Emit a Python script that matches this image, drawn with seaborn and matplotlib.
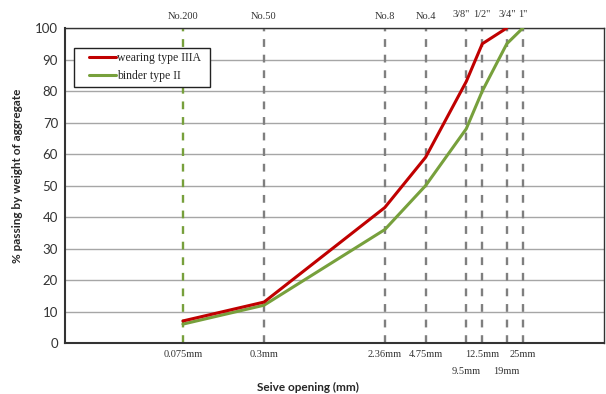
import pandas as pd
import numpy as np
import matplotlib
matplotlib.use("Agg")
import matplotlib.pyplot as plt
import seaborn as sns
from matplotlib.transforms import blended_transform_factory
from matplotlib.lines import Line2D
from matplotlib.legend_handler import HandlerLine2D

# sieve sizes (mm) and their names
sieve_mm = [0.075, 0.3, 2.36, 4.75, 9.5, 12.5, 19, 25]
sieve_names = ["No.200", "No.50", "No.8", "No.4", '3/8"', '1/2"', '3/4"', '1"']
# first row of size labels / second (lower) row
row1_mm = [0.075, 0.3, 2.36, 4.75, 12.5, 25]
row1_labels = ["0.075mm", "0.3mm", "2.36mm", "4.75mm", "12.5mm", "25mm"]
row2_mm = [9.5, 19]
row2_labels = ["9.5mm", "19mm"]

# % passing
wearing_x = [0.075, 0.3, 2.36, 4.75, 9.5, 12.5, 19]
wearing_y = [7, 13, 43, 59, 83, 95, 100]
binder_x = [0.075, 0.3, 2.36, 4.75, 9.5, 12.5, 19, 25]
binder_y = [6, 12, 36, 50, 68, 80, 95, 100]

red = "#C00000"
green = "#77A03C"

sns.set_style("white")
serif = ["Liberation Serif", "DejaVu Serif"]
sans = ["Lato", "DejaVu Sans"]

fig = plt.figure(figsize=(6.06, 3.94), dpi=100)
ax = fig.add_axes([0.1073, 0.1294, 0.8894, 0.7995])

# vertical sieve lines
for s in sieve_mm:
    c = green if s == 0.075 else "#7F7F7F"
    ax.axvline(s, color=c, lw=1.7, ls=(0, (3.3, 3.3)), zorder=1)

df_w = pd.DataFrame({"size": wearing_x, "passing": wearing_y})
df_b = pd.DataFrame({"size": binder_x, "passing": binder_y})
sns.lineplot(data=df_b, x="size", y="passing", color=green, lw=2.2,
             label="binder type II", ax=ax, zorder=3)
sns.lineplot(data=df_w, x="size", y="passing", color=red, lw=2.2,
             label="wearing type IIIA", ax=ax, zorder=4)

ax.set_xscale("log")
ax.set_xlim(0.01, 100)
ax.set_ylim(0, 100)
ax.set_yticks(np.arange(0, 101, 10))
ax.yaxis.grid(True, color="#A6A6A6", lw=1)
ax.set_axisbelow(True)

# size labels: major ticks for the first row, minor ticks for the lower row
ax.set_xticks(row1_mm)
ax.set_xticklabels(row1_labels, fontfamily=serif, fontsize=7.5, color="#333333")
ax.set_xticks(row2_mm, minor=True)
ax.set_xticklabels(row2_labels, minor=True, fontfamily=serif, fontsize=7.5,
                   color="#333333")
ax.tick_params(axis="x", which="major", length=0, pad=5)
ax.tick_params(axis="x", which="minor", length=0, pad=17)
ax.tick_params(axis="y", length=0, pad=5)
for lab in ax.get_yticklabels():
    lab.set_fontfamily(sans)
    lab.set_fontsize(9.5)
    lab.set_color("#333333")

trans = blended_transform_factory(ax.transData, ax.transAxes)
for s, n in zip(sieve_mm, sieve_names):
    dy = 1.03 if '"' in n else 1.022
    dx = -3.5 if n == '3/8"' else 0
    ax.annotate(n, xy=(s, dy), xycoords=trans, xytext=(dx, 0),
                textcoords="offset points", ha="center", va="bottom",
                fontfamily=serif, fontsize=7.5, color="#333333")

ax.set_xlabel("Seive opening (mm)", fontfamily=sans, fontsize=8.5,
              fontweight="bold")
ax.xaxis.set_label_coords(0.451, -0.125)
ax.set_ylabel("% passing by weight of aggregate", fontfamily=sans, fontsize=8.5,
              fontweight="bold")
ax.yaxis.set_label_coords(-0.078, 0.53)

for sp in ax.spines.values():
    sp.set_color("#333333")
    sp.set_linewidth(1)
ax.spines["bottom"].set_linewidth(1.5)
ax.spines["left"].set_linewidth(1.5)

handles, labels = ax.get_legend_handles_labels()
leg = ax.legend(handles[::-1], [l + "  " for l in labels[::-1]], loc="upper left",
                bbox_to_anchor=(0.017, 0.937), borderaxespad=0,
                prop={"family": serif, "size": 8.5},
                frameon=True, fancybox=False, edgecolor="#222222",
                framealpha=1, facecolor="white",
                handlelength=3.2, handletextpad=0.05, borderpad=0.35,
                labelspacing=0.55,
                handler_map={Line2D: HandlerLine2D(xpad=0.9)})
leg.get_frame().set_linewidth(1)
leg.set_zorder(10)

fig.savefig("out.png", dpi=100)
